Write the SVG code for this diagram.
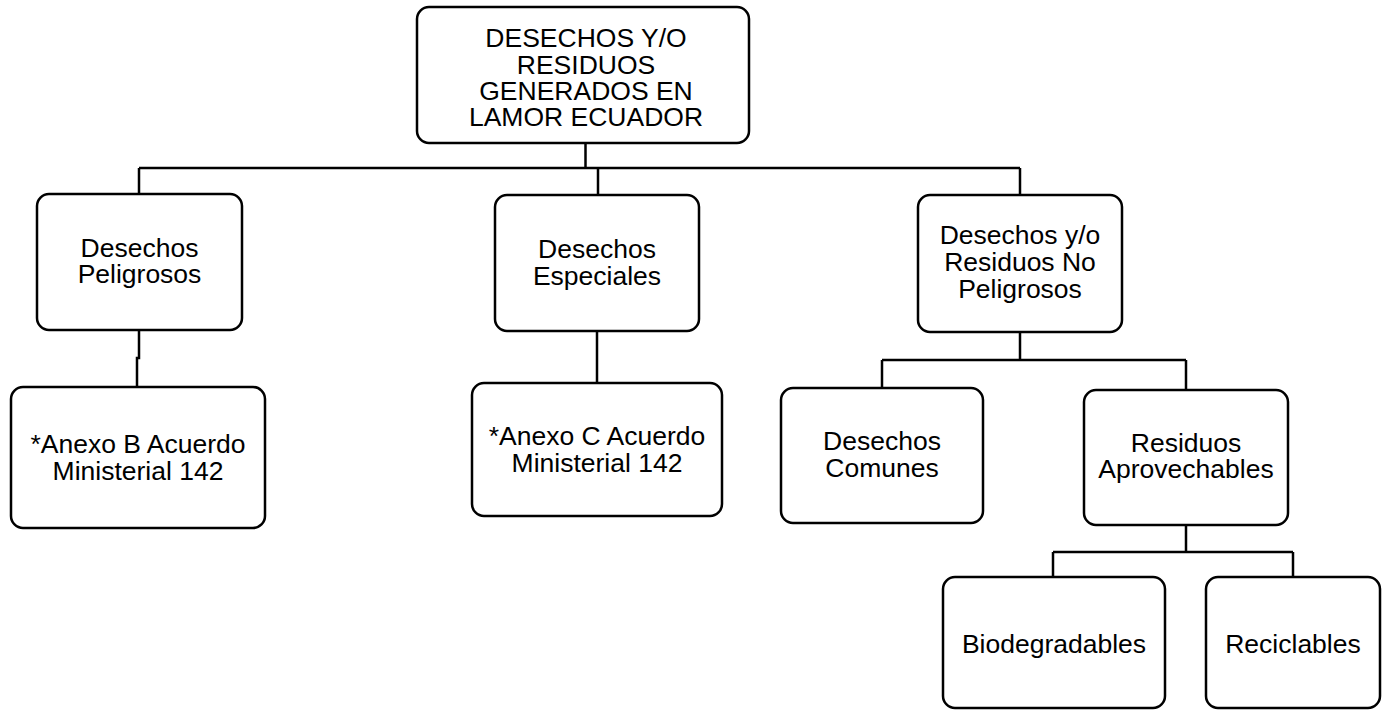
<svg xmlns="http://www.w3.org/2000/svg" width="1383" height="711" viewBox="0 0 1383 711">
<style>
.box{fill:#fff;stroke:#000;stroke-width:2.5}
.t{font-family:"Liberation Sans",Arial,sans-serif;font-size:26.5px;fill:#000;text-anchor:middle}
.c{fill:none;stroke:#000;stroke-width:2.5}
</style>
<rect width="1383" height="711" fill="#fff"/>
<g id="connectors">
<path class="c" d="M585.5,143 V168"/>
<path class="c" d="M139,168 H1020"/>
<path class="c" d="M139,168 V194"/>
<path class="c" d="M598,168 V195"/>
<path class="c" d="M1020,168 V195"/>
<path class="c" d="M139,330 V358 H137 V387"/>
<path class="c" d="M597,331 V383"/>
<path class="c" d="M1020,332 V360"/>
<path class="c" d="M882,360 H1186"/>
<path class="c" d="M882,360 V388"/>
<path class="c" d="M1186,360 V390"/>
<path class="c" d="M1186,525 V552"/>
<path class="c" d="M1053,552 H1293"/>
<path class="c" d="M1053,552 V577"/>
<path class="c" d="M1293,552 V577"/>
</g>
<g id="root">
<rect class="box" x="417" y="7" width="332" height="136" rx="12"/>
<text class="t" y="47"><tspan x="586">DESECHOS Y/O</tspan><tspan x="586" dy="26.5">RESIDUOS</tspan><tspan x="586" dy="26.5">GENERADOS EN</tspan><tspan x="586" dy="26">LAMOR ECUADOR</tspan></text>
</g>
<g id="peligrosos">
<rect class="box" x="37" y="194" width="205" height="136" rx="12"/>
<text class="t" y="257"><tspan x="139.5">Desechos</tspan><tspan x="139.5" dy="26">Peligrosos</tspan></text>
</g>
<g id="especiales">
<rect class="box" x="495" y="195" width="204" height="136" rx="12"/>
<text class="t" y="258"><tspan x="597">Desechos</tspan><tspan x="597" dy="27">Especiales</tspan></text>
</g>
<g id="nopeligrosos">
<rect class="box" x="918" y="195" width="204" height="137" rx="12"/>
<text class="t" y="244"><tspan x="1020">Desechos y/o</tspan><tspan x="1020" dy="27">Residuos No</tspan><tspan x="1020" dy="27">Peligrosos</tspan></text>
</g>
<g id="anexoB">
<rect class="box" x="11" y="387" width="254" height="141" rx="12"/>
<text class="t" y="453"><tspan x="138">*Anexo B Acuerdo</tspan><tspan x="138" dy="27">Ministerial 142</tspan></text>
</g>
<g id="anexoC">
<rect class="box" x="472" y="383" width="250" height="133" rx="12"/>
<text class="t" y="445"><tspan x="597">*Anexo C Acuerdo</tspan><tspan x="597" dy="27">Ministerial 142</tspan></text>
</g>
<g id="comunes">
<rect class="box" x="781" y="388" width="202" height="135" rx="12"/>
<text class="t" y="450"><tspan x="882">Desechos</tspan><tspan x="882" dy="27">Comunes</tspan></text>
</g>
<g id="aprovechables">
<rect class="box" x="1084" y="390" width="204" height="135" rx="12"/>
<text class="t" y="452"><tspan x="1186">Residuos</tspan><tspan x="1186" dy="26">Aprovechables</tspan></text>
</g>
<g id="biodegradables">
<rect class="box" x="943" y="577" width="222" height="131" rx="12"/>
<text class="t" x="1054" y="653">Biodegradables</text>
</g>
<g id="reciclables">
<rect class="box" x="1206" y="577" width="174" height="131" rx="12"/>
<text class="t" x="1293" y="653">Reciclables</text>
</g>
</svg>
